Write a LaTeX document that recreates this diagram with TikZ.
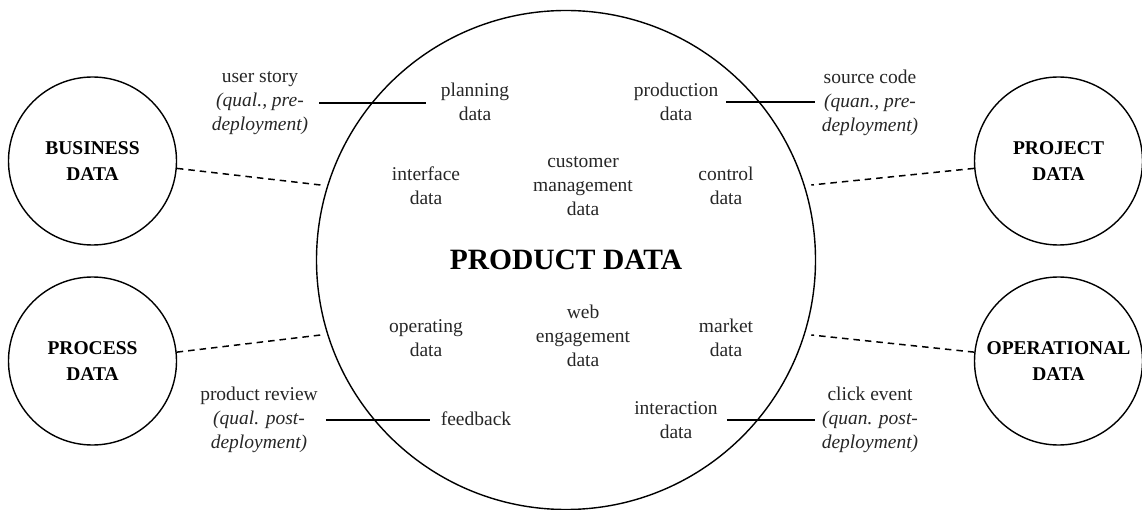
\documentclass[tikz,border=0pt]{standalone}
\usepackage{fontspec}
\setmainfont{Liberation Serif}
\begin{document}
\begin{tikzpicture}[x=1pt,y=-1pt,
  ring/.style={circle,draw,line width=1.4pt,inner sep=0pt},
  small/.style={ring,minimum size=168pt,font=\fontsize{19.5}{25.5}\selectfont\bfseries,align=center},
  lbl/.style={font=\fontsize{19.5}{24}\selectfont,align=center,inner sep=0pt,text=black!85},
  dashlink/.style={line width=1.5pt,dash pattern=on 6.5pt off 5pt},
  solidlink/.style={line width=1.4pt}]
\useasboundingbox (0,0) rectangle (1142,510);

% central product circle
\node[ring,minimum size=499pt,outer sep=7pt,
      font=\fontsize{29.5}{34}\selectfont\bfseries] (main) at (566,260) {PRODUCT DATA};

% surrounding data domains
\node[small] (bus)  at (92.5,161)   {BUSINESS\\DATA};
\node[small] (proc) at (92.5,361)   {PROCESS\\DATA};
\node[small] (proj) at (1058.5,161) {PROJECT\\DATA};
\node[small] (opr)  at (1058.5,361) {OPERATIONAL\\DATA};

\draw[dashlink] (bus.-5)  -- (main.163);
\draw[dashlink] (proc.6)  -- (main.197.5);
\draw[dashlink] (proj.185) -- (main.17);
\draw[dashlink] (opr.174) -- (main.-17);

% kinds of product data
\node[lbl] (plan)  at (475,102) {planning\\data};
\node[lbl] (prod)  at (676,102) {production\\data};
\node[lbl] (intf)  at (426,186) {interface\\data};
\node[lbl] (cust)  at (583,186) {customer\\management\\data};
\node[lbl] (ctrl)  at (726,186) {control\\data};
\node[lbl] (opd)   at (426,338) {operating\\data};
\node[lbl] (web)   at (583,336) {web\\engagement\\data};
\node[lbl] (mkt)   at (726,338) {market\\data};
\node[lbl] (fb)    at (476,419) {feedback};
\node[lbl] (inter) at (676,420) {interaction\\data};

% examples
\node[lbl] (us) at (260,103) {user story\\\textit{(qual., pre-}\\\textit{deployment)}};
\node[lbl] (pr) at (259,420) {product review\\\textit{(qual. post-}\\\textit{deployment)}};
\node[lbl] (sc) at (870,103) {source code\\\textit{(quan., pre-}\\\textit{deployment)}};
\node[lbl] (ce) at (870,420) {click event\\\textit{(quan. post-}\\\textit{deployment)}};

\draw[solidlink,shorten <=11pt,shorten >=15pt] (us.east) -- (us.east -| plan.west);
\draw[solidlink,shorten <=8pt,shorten >=11pt]  (pr.east) -- (pr.east -| fb.west);
\draw[solidlink,shorten <=8pt,shorten >=7pt]   (prod.east) -- (prod.east -| sc.west);
\draw[solidlink,shorten <=9pt,shorten >=7pt]   (inter.east) -- (inter.east -| ce.west);
\end{tikzpicture}
\end{document}
